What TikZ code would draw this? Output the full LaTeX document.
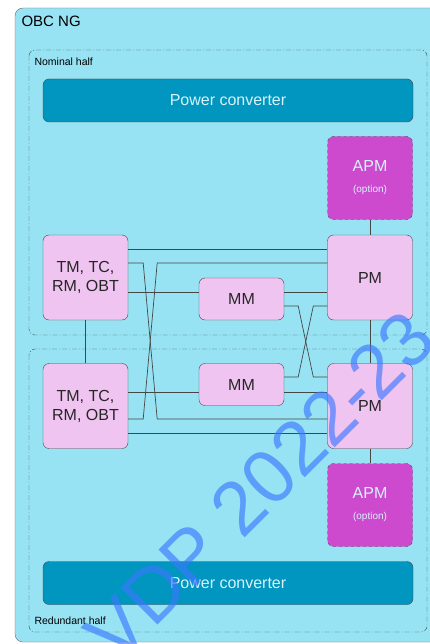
\documentclass[tikz,border=0pt]{standalone}
\usepackage{fontspec}
\setmainfont{Liberation Sans}
\usepackage{xcolor}
\usepackage{tikz}
\usetikzlibrary{positioning, calc}
\definecolor{obcfill}{RGB}{151,227,243}
\definecolor{pcfill}{RGB}{0,150,191}
\definecolor{pctext}{RGB}{215,243,250}
\definecolor{unitfill}{RGB}{240,196,240}
\definecolor{apmfill}{RGB}{205,74,207}
\definecolor{edge}{RGB}{70,70,70}
\definecolor{wmark}{RGB}{60,120,255}
\tikzstyle{half} = [draw=edge, rounded corners=6pt, dash pattern=on 5pt off 2pt on 1pt off 2pt]
\tikzstyle{conv} = [rectangle, rounded corners=6pt, minimum width=370pt, minimum height=43pt, draw=edge, fill=pcfill, text=pctext, font=\fontsize{16}{19}\selectfont]
\tikzstyle{unit} = [rectangle, rounded corners=6pt, minimum width=85pt, minimum height=85pt, align=center, draw=edge, fill=unitfill, text=black!85, font=\fontsize{16}{19}\selectfont]
\tikzstyle{mem} = [unit, minimum height=42pt]
\tikzstyle{apm} = [unit, fill=apmfill, text=pctext, dashed, minimum height=83pt]
\tikzstyle{wire} = [draw=edge, line width=0.7pt]

\begin{document}
\begin{tikzpicture}[x=1pt, y=-1pt]
\clip (0,0) rectangle (430,644);
% OBC outline
\draw[draw=edge!80, fill=obcfill, rounded corners=8pt] (15,8) rectangle (460,642);
\node[anchor=west, font=\fontsize{15}{18}\selectfont] (obc) at (18,21) {OBC NG};

% nominal and redundant halves
\draw[half] (29,50) rectangle (427,335);
\node[anchor=west, font=\fontsize{10.5}{12}\selectfont] (nomlbl) at (31,62) {Nominal half};
\draw[half] (29,349) rectangle (427,632);
\node[anchor=west, font=\fontsize{10.5}{12}\selectfont] (redlbl) at (31,621) {Redundant half};

% power converters
\node[conv] (pc1) at (228,100.5) {Power converter};
\node[conv] (pc2) at (228,583) {Power converter};

% processing modules
\node[unit] (pm1) at (370,277.5) {PM};
\node[unit] (pm2) at (370,406) {PM};
\node[apm] (apm1) at (370,178) {APM\\[2pt]{\fontsize{10}{12}\selectfont (option)}};
\node[apm] (apm2) at (370,505) {APM\\[2pt]{\fontsize{10}{12}\selectfont (option)}};

% TM/TC units
\node[unit] (tm1) at (85.5,277.5) {TM, TC,\\RM, OBT};
\node[unit] (tm2) at (85.5,406) {TM, TC,\\RM, OBT};

% mass memories
\node[mem] (mm1) at (241.5,299) {MM};
\node[mem] (mm2) at (241.5,384.5) {MM};

% Connections
\draw[wire] ([yshift=28.5]tm1.east) -- ([yshift=28.5]pm1.west);
\draw[wire] ([yshift=14.5]tm1.east) -- ++(15,0) -- ([xshift=29,yshift=-13]tm2.east) -- ([yshift=-13]pm2.west);
\draw[wire] ([yshift=14.5]pm1.west) -- ([xshift=29,yshift=14.5]tm1.east) -- ([xshift=15,yshift=-13]tm2.east) -- ([yshift=-13]tm2.east);
\draw[wire] ([yshift=-14.5]tm1.east) -- ([yshift=7]mm1.west);
\draw[wire] ([yshift=7]mm1.east) -- ([yshift=-14.5]pm1.west);
\draw[wire] ([yshift=-7]mm1.east) -- ++(14,0) -- ([xshift=-14,yshift=29]pm2.west) -- ([yshift=29]pm2.west);
\draw[wire] ([yshift=-28.5]pm1.west) -- ++(-14,0) -- ([xshift=14,yshift=7.5]mm2.east) -- ([yshift=7.5]mm2.east);
\draw[wire] ([yshift=14]tm2.east) -- ([yshift=-7.5]mm2.west);
\draw[wire] ([yshift=-7.5]mm2.east) -- ([yshift=14]pm2.west);
\draw[wire] ([yshift=-27]tm2.east) -- ([yshift=-27]pm2.west);
\draw[wire] (tm1.south) -- (tm2.north);
\draw[wire] (apm1.south) -- (pm1.north);
\draw[wire] (pm1.south) -- (pm2.north);
\draw[wire] (pm2.south) -- (apm2.north);

% watermark
\node[text=wmark, opacity=0.65, rotate=45, font=\fontsize{76}{84}\selectfont] (wm) at (260,486) {VDP 2022-23};
\end{tikzpicture}
\end{document}
